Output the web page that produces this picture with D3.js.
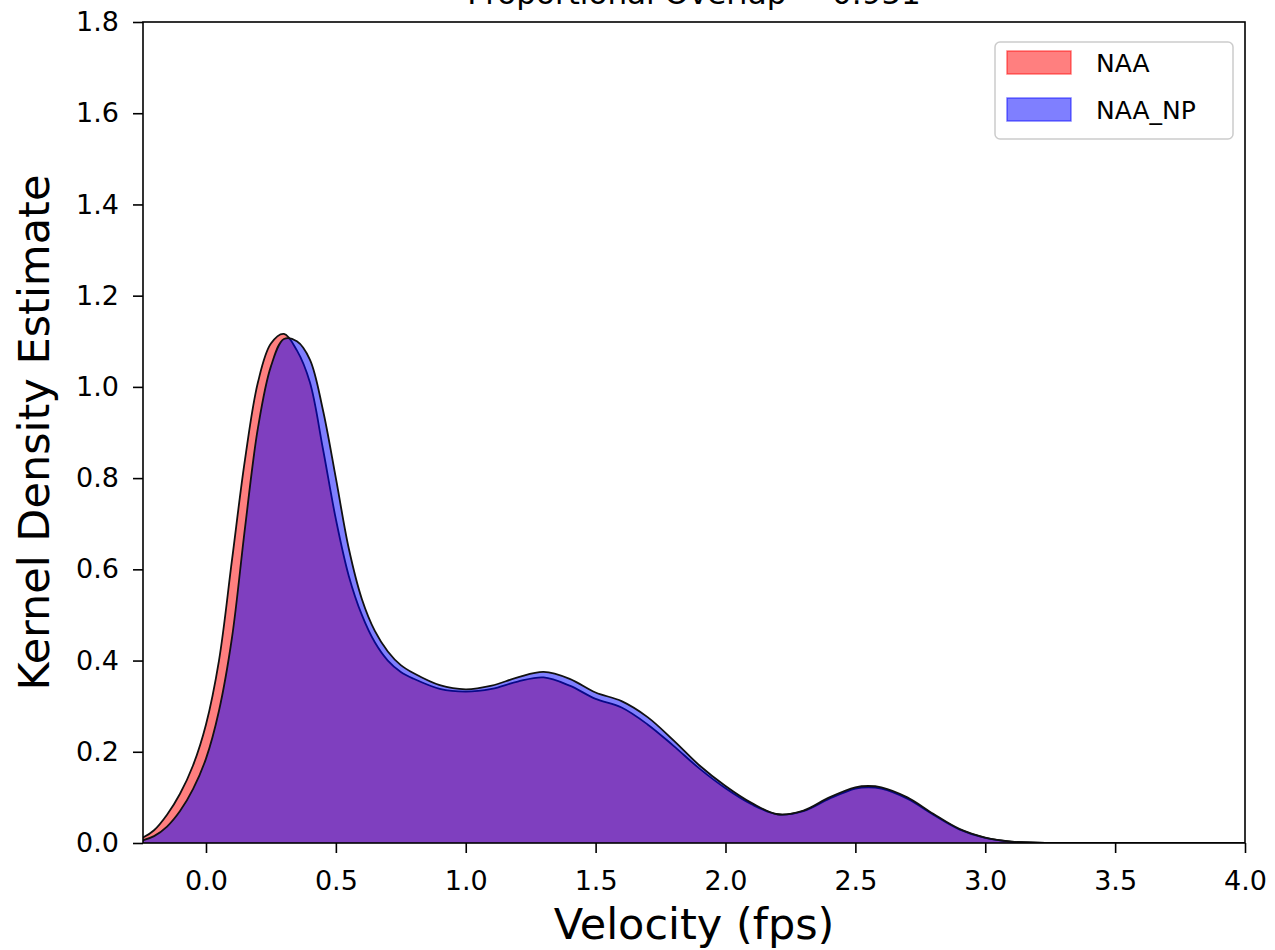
<!DOCTYPE html>
<html>
<head>
<meta charset="utf-8">
<script src="https://cdn.jsdelivr.net/npm/d3@7"></script>
<style>
  body { margin: 0; background: #fff; }
  svg { display: block; }
  text { font-family: "DejaVu Sans", sans-serif; fill: #000; }
</style>
</head>
<body>
<div id="chart"></div>
<script>
// ---- data ----
const titleText = "Proportional Overlap = 0.951";
const xLabel = "Velocity (fps)";
const yLabel = "Kernel Density Estimate";
const seriesNames = ["NAA", "NAA_NP"];
const xGrid = [-0.3, -0.25, -0.2, -0.15, -0.1, -0.05, 0.0, 0.05, 0.1, 0.15, 0.2, 0.25, 0.3, 0.35, 0.4, 0.45, 0.5, 0.55, 0.6, 0.65, 0.7, 0.75, 0.8, 0.9, 1.0, 1.1, 1.2, 1.3, 1.4, 1.5, 1.6, 1.7, 1.8, 1.9, 2.0, 2.1, 2.2, 2.3, 2.4, 2.5, 2.55, 2.6, 2.7, 2.8, 2.9, 3.0, 3.1, 3.2, 3.4, 3.7, 4.0];
const naa = [0.004, 0.01, 0.028, 0.062, 0.108, 0.17, 0.26, 0.40, 0.62, 0.84, 1.01, 1.095, 1.116, 1.08, 1.01, 0.865, 0.71, 0.585, 0.50, 0.44, 0.40, 0.375, 0.36, 0.338, 0.332, 0.338, 0.354, 0.363, 0.345, 0.316, 0.297, 0.26, 0.213, 0.163, 0.12, 0.085, 0.063, 0.07, 0.097, 0.119, 0.122, 0.119, 0.097, 0.062, 0.03, 0.011, 0.003, 0.001, 0, 0, 0];
const naaNp = [0.002, 0.005, 0.015, 0.036, 0.07, 0.118, 0.185, 0.29, 0.45, 0.69, 0.91, 1.045, 1.105, 1.10, 1.06, 0.95, 0.80, 0.645, 0.535, 0.465, 0.42, 0.39, 0.372, 0.346, 0.337, 0.345, 0.363, 0.375, 0.36, 0.33, 0.311, 0.276, 0.225, 0.17, 0.125, 0.088, 0.063, 0.071, 0.10, 0.122, 0.125, 0.122, 0.10, 0.064, 0.031, 0.012, 0.003, 0.001, 0, 0, 0];
const xTicks = [0.0, 0.5, 1.0, 1.5, 2.0, 2.5, 3.0, 3.5, 4.0];
const yTicks = [0.0, 0.2, 0.4, 0.6, 0.8, 1.0, 1.2, 1.4, 1.6, 1.8];
const xDomain = [-0.2425, 4.0];
const yDomain = [0, 1.8];
const fills = ["rgba(255,0,0,0.5)", "rgba(0,0,255,0.5)"];

// ---- layout ----
const W = 1275, H = 950;
const pL = 143, pR = 1245, pT = 22, pB = 843;

const svg = d3.select("#chart").append("svg").attr("width", W).attr("height", H);
const x = d3.scaleLinear().domain(xDomain).range([pL, pR]);
const y = d3.scaleLinear().domain(yDomain).range([pB, pT]);

svg.append("defs").append("clipPath").attr("id", "clip")
  .append("rect").attr("x", pL).attr("y", pT).attr("width", pR - pL).attr("height", pB - pT);

const series = [naa, naaNp];
const g = svg.append("g").attr("clip-path", "url(#clip)");
const curve = d3.curveCatmullRom.alpha(0.5);
series.forEach((vals, i) => {
  const pts = xGrid.map((xv, k) => [xv, vals[k]]);
  const area = d3.area().x(d => x(d[0])).y0(y(0)).y1(d => y(Math.max(0, d[1]))).curve(curve);
  const line = d3.line().x(d => x(d[0])).y(d => y(Math.max(0, d[1]))).curve(curve);
  g.append("path").attr("d", area(pts)).attr("fill", fills[i]).attr("stroke", "none");
  g.append("path").attr("d", line(pts)).attr("fill", "none").attr("stroke", "#111").attr("stroke-width", 1.8);
});

// axes
const xAxis = d3.axisBottom(x).tickValues(xTicks).tickFormat(d3.format(".1f")).tickSize(10).tickPadding(18);
const yAxis = d3.axisLeft(y).tickValues(yTicks).tickFormat(d3.format(".1f")).tickSize(10).tickPadding(14);
const gx = svg.append("g").attr("transform", `translate(0,${pB})`).call(xAxis);
const gy = svg.append("g").attr("transform", `translate(${pL},0)`).call(yAxis);
[gx, gy].forEach(a => {
  a.select(".domain").remove();
  a.selectAll(".tick line").attr("stroke", "#000").attr("stroke-width", 1.6);
  a.selectAll(".tick text").attr("font-size", 27).attr("font-family", "DejaVu Sans").attr("fill", "#1a1a1a");
});

// spines
svg.append("rect").attr("x", pL).attr("y", pT).attr("width", pR - pL).attr("height", pB - pT)
  .attr("fill", "none").attr("stroke", "#000").attr("stroke-width", 1.6);

// labels
svg.append("text").attr("x", (pL + pR) / 2).attr("y", 939).attr("text-anchor", "middle")
  .attr("font-size", 43).text(xLabel);
svg.append("text").attr("transform", `translate(49,${(pT + pB) / 2}) rotate(-90)`)
  .attr("text-anchor", "middle").attr("font-size", 43).text(yLabel);
svg.append("text").attr("x", (pL + pR) / 2).attr("y", 4).attr("text-anchor", "middle")
  .attr("font-size", 31).text(titleText);

// legend
const lg = svg.append("g");
lg.append("rect").attr("x", 995).attr("y", 42).attr("width", 238).attr("height", 97).attr("rx", 5)
  .attr("fill", "rgba(255,255,255,0.8)").attr("stroke", "#cccccc").attr("stroke-width", 1.5);
seriesNames.forEach((name, i) => {
  const yy = 51 + i * 47;
  lg.append("rect").attr("x", 1007).attr("y", yy).attr("width", 64).attr("height", 23)
    .attr("fill", fills[i]).attr("stroke", fills[i]).attr("stroke-width", 1.5);
  lg.append("text").attr("x", 1096).attr("y", yy + 21).attr("font-size", 25).attr("fill", "#1a1a1a").text(name);
});
</script>
</body>
</html>
